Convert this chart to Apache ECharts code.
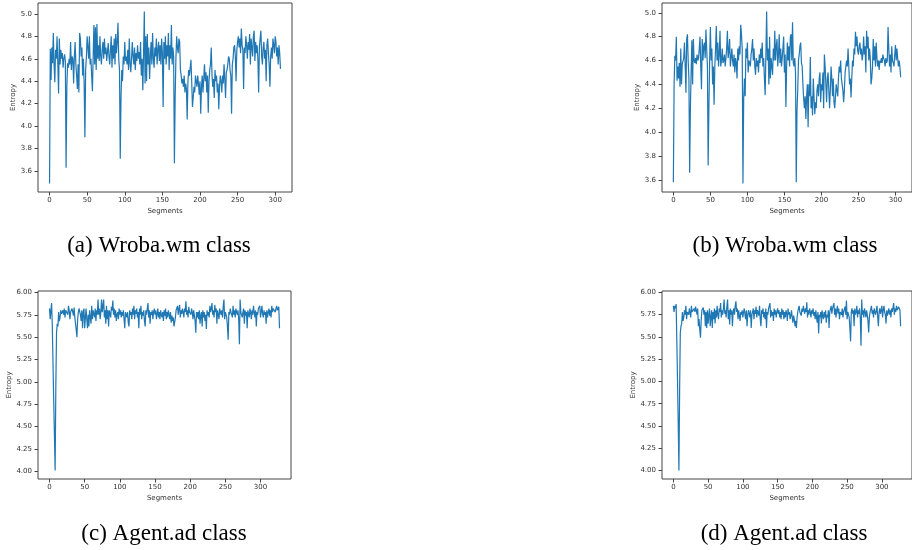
<!DOCTYPE html>
<html>
<head>
<meta charset="utf-8">
<script src="https://cdn.jsdelivr.net/npm/echarts@6.0.0/dist/echarts.min.js"></script>
<style>
  html, body { margin: 0; padding: 0; background: #fff; }
  #chart { width: 912px; height: 550px; }
</style>
</head>
<body>
<div id="chart"></div>
<script>
// entropy of each segment
const wrobaA = [
  3.49, 4.69, 4.41, 4.70, 4.56, 4.83, 4.55, 4.39, 4.68, 4.60,
  4.80, 4.55, 4.29, 4.78, 4.55, 4.68, 4.60, 4.65, 4.52, 4.60,
  4.64, 4.58, 3.63, 4.35, 4.56, 4.52, 4.60, 4.55, 4.75, 4.50,
  4.62, 4.60, 4.38, 4.62, 4.75, 4.55, 4.45, 4.33, 4.55, 4.30,
  4.83, 4.78, 4.62, 4.70, 4.45, 4.60, 4.38, 3.90, 4.50, 4.62,
  4.80, 4.70, 4.60, 4.80, 4.55, 4.60, 4.45, 4.31, 4.62, 4.90,
  4.55, 4.88, 4.50, 4.91, 4.60, 4.72, 4.58, 4.80, 4.62, 4.55,
  4.68, 4.75, 4.60, 4.78, 4.64, 4.70, 4.58, 4.66, 4.74, 4.62,
  4.55, 4.68, 4.80, 4.52, 4.72, 4.60, 4.78, 4.55, 4.82, 4.65,
  4.75, 4.92, 4.60, 4.50, 3.71, 4.25, 4.50, 4.40, 4.62, 4.55,
  4.75, 4.58, 4.62, 4.55, 4.68, 4.50, 4.78, 4.56, 4.48, 4.60,
  4.75, 4.62, 4.55, 4.70, 4.50, 4.65, 4.58, 4.72, 4.60, 4.66,
  4.55, 4.75, 4.45, 4.60, 4.32, 4.65, 5.02, 4.38, 4.80, 4.40,
  4.82, 4.55, 4.70, 4.42, 4.62, 4.75, 4.55, 4.83, 4.60, 4.52,
  4.70, 4.62, 4.78, 4.55, 4.68, 4.75, 4.58, 4.72, 4.55, 4.78,
  4.65, 4.17, 4.75, 4.60, 4.80, 4.55, 4.72, 4.62, 4.83, 4.50,
  4.72, 4.60, 4.90, 4.55, 4.70, 4.62, 3.67, 4.25, 4.60, 4.80,
  4.70, 4.65, 4.78, 4.75, 4.50, 4.45, 4.38, 4.42, 4.35, 4.45,
  4.30, 4.38, 4.33, 4.06, 4.40, 4.50, 4.45, 4.52, 4.59, 4.40,
  4.17, 4.25, 4.35, 4.30, 4.45, 4.40, 4.35, 4.45, 4.38, 4.28,
  4.40, 4.11, 4.35, 4.45, 4.30, 4.42, 4.55, 4.40, 4.48, 4.30,
  4.45, 4.12, 4.40, 4.50, 4.55, 4.70, 4.45, 4.35, 4.42, 4.25,
  4.50, 4.40, 4.45, 4.30, 4.38, 4.15, 4.35, 4.45, 4.40, 4.30,
  4.45, 4.38, 4.55, 4.42, 4.25, 4.48, 4.50, 4.55, 4.62, 4.60,
  4.50, 4.45, 4.11, 4.55, 4.60, 4.70, 4.72, 4.62, 4.40, 4.68,
  4.75, 4.80, 4.70, 4.78, 4.65, 4.87, 4.72, 4.68, 4.33, 4.70,
  4.65, 4.80, 4.72, 4.60, 4.75, 4.68, 4.82, 4.55, 4.78, 4.70,
  4.62, 4.80, 4.85, 4.58, 4.75, 4.65, 4.72, 4.60, 4.30, 4.70,
  4.78, 4.85, 4.62, 4.55, 4.70, 4.75, 4.60, 4.68, 4.40, 4.72,
  4.78, 4.65, 4.55, 4.35, 4.62, 4.70, 4.60, 4.78, 4.72, 4.65,
  4.80, 4.75, 4.62, 4.70, 4.55, 4.72, 4.65, 4.51
]

const wrobaB = [
  3.58, 4.40, 4.64, 4.60, 4.80, 4.43, 4.55, 4.45, 4.58, 4.38,
  4.70, 4.40, 4.57, 4.58, 4.62, 4.75, 4.55, 4.33, 4.78, 4.82,
  4.60, 4.45, 3.66, 4.20, 4.50, 4.77, 4.40, 4.78, 4.60, 4.58,
  4.62, 4.57, 4.65, 4.60, 4.62, 4.70, 4.80, 4.55, 4.36, 4.78,
  4.60, 4.72, 4.75, 4.62, 4.86, 4.70, 4.55, 3.72, 4.20, 4.60,
  4.88, 4.60, 4.70, 4.40, 4.55, 4.23, 4.55, 4.70, 4.89, 4.60,
  4.75, 4.55, 4.65, 4.85, 4.55, 4.60, 4.70, 4.58, 4.60, 4.65,
  4.55, 4.62, 4.70, 4.85, 4.62, 4.68, 4.78, 4.55, 4.62, 4.70,
  4.60, 4.55, 4.65, 4.50, 4.62, 4.58, 4.45, 4.70, 4.60, 4.72,
  4.65, 4.90, 4.82, 4.70, 3.57, 4.28, 4.45, 4.30, 4.70, 4.62,
  4.75, 4.50, 4.60, 4.58, 4.55, 4.65, 4.70, 4.78, 4.60, 4.70,
  4.55, 4.48, 4.62, 4.55, 4.60, 4.50, 4.65, 4.58, 4.70, 4.62,
  4.75, 4.55, 4.62, 4.45, 4.31, 4.65, 5.01, 4.60, 4.70, 4.40,
  4.80, 4.45, 4.62, 4.55, 4.48, 4.70, 4.60, 4.85, 4.60, 4.72,
  4.78, 4.55, 4.65, 4.82, 4.58, 4.70, 4.55, 4.62, 4.70, 4.80,
  4.50, 4.65, 4.21, 4.55, 4.75, 4.60, 4.72, 4.55, 4.80, 4.82,
  4.60, 4.92, 4.58, 4.55, 4.62, 4.50, 3.58, 4.18, 4.35, 4.60,
  4.65, 4.72, 4.75, 4.58, 4.55, 4.40, 4.28, 4.20, 4.30, 4.11,
  4.30, 4.40, 4.04, 4.40, 4.30, 4.63, 4.20, 4.30, 4.14, 4.45,
  4.30, 4.15, 4.25, 4.20, 4.35, 4.40, 4.30, 4.45, 4.50, 4.25,
  4.40, 4.35, 4.50, 4.20, 4.65, 4.55, 4.40, 4.25, 4.45, 4.50,
  4.35, 4.20, 4.35, 4.55, 4.45, 4.30, 4.45, 4.25, 4.20, 4.30,
  4.40, 4.35, 4.30, 4.45, 4.55, 4.50, 4.60, 4.45, 4.40, 4.35,
  4.25, 4.35, 4.50, 4.55, 4.60, 4.55, 4.70, 4.55, 4.40, 4.45,
  4.29, 4.45, 4.60, 4.55, 4.70, 4.65, 4.84, 4.72, 4.80, 4.68,
  4.65, 4.72, 4.75, 4.65, 4.70, 4.60, 4.65, 4.80, 4.65, 4.72,
  4.50, 4.85, 4.70, 4.80, 4.60, 4.70, 4.62, 4.40, 4.45, 4.55,
  4.78, 4.60, 4.72, 4.55, 4.75, 4.62, 4.55, 4.60, 4.52, 4.60,
  4.58, 4.62, 4.58, 4.65, 4.62, 4.60, 4.55, 4.62, 4.58, 4.60,
  4.88, 4.70, 4.55, 4.65, 4.50, 4.72, 4.60, 4.58, 4.55, 4.65,
  4.73, 4.60, 4.70, 4.62, 4.55, 4.60, 4.55, 4.46
]

const agentC = [
  5.82, 5.70, 5.80, 5.88, 5.62, 5.20, 4.78, 4.40, 4.01, 4.95,
  5.55, 5.65, 5.62, 5.78, 5.68, 5.72, 5.80, 5.76, 5.75, 5.80,
  5.75, 5.82, 5.72, 5.80, 5.78, 5.82, 5.75, 5.85, 5.80, 5.70,
  5.78, 5.76, 5.82, 5.80, 5.74, 5.83, 5.72, 5.65, 5.58, 5.50,
  5.70, 5.78, 5.82, 5.80, 5.75, 5.68, 5.80, 5.60, 5.78, 5.82,
  5.60, 5.72, 5.82, 5.70, 5.60, 5.75, 5.62, 5.80, 5.72, 5.65,
  5.85, 5.70, 5.80, 5.76, 5.72, 5.82, 5.68, 5.80, 5.75, 5.92,
  5.75, 5.82, 5.70, 5.78, 5.92, 5.78, 5.85, 5.92, 5.72, 5.80,
  5.65, 5.85, 5.70, 5.80, 5.62, 5.80, 5.78, 5.72, 5.84, 5.80,
  5.91, 5.75, 5.82, 5.72, 5.80, 5.68, 5.75, 5.78, 5.70, 5.82,
  5.75, 5.80, 5.72, 5.78, 5.74, 5.80, 5.70, 5.60, 5.78, 5.80,
  5.72, 5.78, 5.66, 5.62, 5.80, 5.75, 5.78, 5.70, 5.82, 5.75,
  5.85, 5.70, 5.80, 5.76, 5.82, 5.72, 5.78, 5.60, 5.82, 5.75,
  5.85, 5.70, 5.78, 5.74, 5.80, 5.68, 5.62, 5.80, 5.75, 5.82,
  5.88, 5.72, 5.80, 5.65, 5.78, 5.75, 5.80, 5.70, 5.78, 5.82,
  5.75, 5.80, 5.70, 5.76, 5.82, 5.72, 5.78, 5.70, 5.80, 5.75,
  5.72, 5.78, 5.68, 5.80, 5.74, 5.82, 5.70, 5.78, 5.72, 5.80,
  5.75, 5.70, 5.78, 5.66, 5.74, 5.68, 5.72, 5.62, 5.60, 5.72,
  5.80, 5.78, 5.85, 5.75, 5.82, 5.86, 5.72, 5.80, 5.76, 5.82,
  5.78, 5.72, 5.82, 5.78, 5.90, 5.75, 5.80, 5.72, 5.84, 5.78,
  5.80, 5.75, 5.82, 5.78, 5.70, 5.80, 5.74, 5.68, 5.55, 5.78,
  5.72, 5.78, 5.70, 5.80, 5.65, 5.74, 5.78, 5.62, 5.80, 5.72,
  5.78, 5.68, 5.75, 5.59, 5.80, 5.74, 5.78, 5.72, 5.85, 5.78,
  5.82, 5.88, 5.75, 5.80, 5.72, 5.86, 5.78, 5.82, 5.65, 5.80,
  5.75, 5.70, 5.82, 5.78, 5.75, 5.80, 5.72, 5.85, 5.92, 5.70,
  5.78, 5.80, 5.72, 5.62, 5.47, 5.78, 5.75, 5.82, 5.78, 5.80,
  5.72, 5.85, 5.75, 5.80, 5.72, 5.82, 5.78, 5.75, 5.80, 5.70,
  5.42, 5.92, 5.78, 5.80, 5.72, 5.78, 5.82, 5.65, 5.80, 5.74,
  5.78, 5.60, 5.80, 5.76, 5.72, 5.82, 5.78, 5.70, 5.80, 5.75,
  5.85, 5.78, 5.72, 5.80, 5.62, 5.78, 5.75, 5.82, 5.80, 5.85,
  5.72, 5.78, 5.85, 5.76, 5.72, 5.80, 5.75, 5.78, 5.65, 5.80,
  5.72, 5.78, 5.82, 5.74, 5.80, 5.72, 5.85, 5.78, 5.82, 5.80,
  5.84, 5.78, 5.82, 5.85, 5.80, 5.82, 5.84, 5.60
]

const agentD = [
  5.85, 5.78, 5.85, 5.82, 5.87, 5.45, 5.00, 4.52, 4.00, 4.90,
  5.55, 5.62, 5.65, 5.78, 5.68, 5.72, 5.80, 5.75, 5.85, 5.70,
  5.78, 5.80, 5.75, 5.82, 5.80, 5.72, 5.85, 5.78, 5.80, 5.76,
  5.82, 5.78, 5.84, 5.80, 5.75, 5.82, 5.62, 5.70, 5.58, 5.49,
  5.68, 5.80, 5.78, 5.83, 5.75, 5.80, 5.62, 5.78, 5.60, 5.80,
  5.65, 5.75, 5.82, 5.62, 5.72, 5.80, 5.60, 5.78, 5.70, 5.82,
  5.65, 5.80, 5.72, 5.85, 5.75, 5.70, 5.82, 5.78, 5.88, 5.72,
  5.80, 5.75, 5.82, 5.92, 5.76, 5.80, 5.72, 5.85, 5.92, 5.70,
  5.80, 5.64, 5.82, 5.75, 5.80, 5.62, 5.78, 5.82, 5.75, 5.85,
  5.90, 5.78, 5.82, 5.70, 5.80, 5.74, 5.68, 5.78, 5.75, 5.80,
  5.72, 5.78, 5.82, 5.75, 5.70, 5.80, 5.62, 5.74, 5.80, 5.78,
  5.72, 5.80, 5.60, 5.75, 5.78, 5.82, 5.70, 5.80, 5.76, 5.84,
  5.72, 5.80, 5.78, 5.74, 5.85, 5.70, 5.62, 5.80, 5.76, 5.82,
  5.72, 5.78, 5.70, 5.82, 5.60, 5.78, 5.75, 5.82, 5.80, 5.88,
  5.72, 5.80, 5.74, 5.78, 5.68, 5.82, 5.75, 5.80, 5.72, 5.78,
  5.82, 5.76, 5.80, 5.72, 5.78, 5.70, 5.82, 5.75, 5.80, 5.70,
  5.78, 5.72, 5.80, 5.76, 5.68, 5.82, 5.75, 5.78, 5.70, 5.74,
  5.80, 5.72, 5.66, 5.74, 5.70, 5.62, 5.68, 5.60, 5.72, 5.78,
  5.82, 5.85, 5.78, 5.80, 5.74, 5.82, 5.78, 5.85, 5.80, 5.76,
  5.82, 5.78, 5.89, 5.72, 5.80, 5.75, 5.82, 5.78, 5.72, 5.80,
  5.76, 5.82, 5.74, 5.78, 5.70, 5.80, 5.72, 5.66, 5.78, 5.54,
  5.75, 5.72, 5.78, 5.65, 5.80, 5.74, 5.70, 5.78, 5.72, 5.80,
  5.66, 5.75, 5.72, 5.80, 5.60, 5.78, 5.80, 5.85, 5.76, 5.82,
  5.80, 5.88, 5.75, 5.82, 5.72, 5.80, 5.85, 5.76, 5.82, 5.70,
  5.78, 5.80, 5.75, 5.82, 5.72, 5.78, 5.80, 5.84, 5.75, 5.91,
  5.70, 5.78, 5.80, 5.72, 5.60, 5.45, 5.78, 5.82, 5.76, 5.80,
  5.62, 5.82, 5.75, 5.78, 5.85, 5.72, 5.80, 5.76, 5.82, 5.70,
  5.40, 5.92, 5.75, 5.80, 5.72, 5.82, 5.78, 5.72, 5.80, 5.75,
  5.68, 5.55, 5.72, 5.78, 5.80, 5.85, 5.76, 5.80, 5.72, 5.82,
  5.78, 5.75, 5.80, 5.85, 5.72, 5.62, 5.78, 5.82, 5.76, 5.80,
  5.85, 5.72, 5.80, 5.85, 5.78, 5.75, 5.65, 5.80, 5.74, 5.78,
  5.82, 5.75, 5.80, 5.72, 5.82, 5.78, 5.80, 5.88, 5.75, 5.82,
  5.78, 5.85, 5.80, 5.82, 5.84, 5.85, 5.80, 5.62
]

// tick labels
const segTicks = [0, 50, 100, 150, 200, 250, 300]
const wrobaTicks = [3.6, 3.8, 4.0, 4.2, 4.4, 4.6, 4.8, 5.0]
const agentTicks = [4.0, 4.25, 4.5, 4.75, 5.0, 5.25, 5.5, 5.75, 6.0]
const captions = ['(a) Wroba.wm class', '(b) Wroba.wm class', '(c) Agent.ad class', '(d) Agent.ad class']

var chart = echarts.init(document.getElementById('chart'))

// panel layout (pixels)
var panels = [
  { data: wrobaA, ticks: wrobaTicks, dec: 1, left: 38, top: 3, width: 254, height: 189, gap: 19.5, cx: 159, cy: 246 },
  { data: wrobaB, ticks: wrobaTicks, dec: 1, left: 662, top: 3, width: 254, height: 189, gap: 19.5, cx: 785, cy: 246 },
  { data: agentC, ticks: agentTicks, dec: 2, left: 38, top: 291, width: 253, height: 188, gap: 23.5, cx: 164, cy: 534 },
  { data: agentD, ticks: agentTicks, dec: 2, left: 662, top: 291, width: 253, height: 188, gap: 23.5, cx: 784, cy: 534 },
]

var textStyle = { fontFamily: 'DejaVu Sans', fontSize: 7, color: '#333' }
var tickStyle = { color: '#444', width: 1 }

var grids = [], xAxes = [], yAxes = [], series = [], graphics = []
panels.forEach(function (p, i) {
  var n = p.data.length - 1
  var lo = Math.min.apply(null, p.data)
  var hi = Math.max.apply(null, p.data)
  var m = (hi - lo) * 0.05
  grids.push({
    left: p.left, top: p.top, width: p.width, height: p.height,
    show: true, borderColor: '#444', borderWidth: 1,
  })
  xAxes.push({
    type: 'value', gridIndex: i, min: -n * 0.05, max: n * 1.05,
    name: 'Segments', nameLocation: 'middle', nameGap: 15.5,
    nameTextStyle: textStyle,
    axisLine: { show: false, onZero: false },
    axisTick: { show: true, length: 3.5, lineStyle: tickStyle, customValues: segTicks },
    axisLabel: Object.assign({ margin: 5, customValues: segTicks }, textStyle),
    splitLine: { show: false },
  })
  yAxes.push({
    type: 'value', gridIndex: i, min: lo - m, max: hi + m,
    name: 'Entropy', nameLocation: 'middle', nameGap: p.gap,
    nameTextStyle: textStyle,
    axisLine: { show: false, onZero: false },
    axisTick: { show: true, length: 3.5, lineStyle: tickStyle, customValues: p.ticks },
    axisLabel: Object.assign({
      margin: 6, customValues: p.ticks,
      formatter: function (v) { return v.toFixed(p.dec) },
    }, textStyle),
    splitLine: { show: false },
  })
  series.push({
    type: 'line', xAxisIndex: i, yAxisIndex: i,
    data: p.data.map(function (v, k) { return [k, v] }),
    symbol: 'none', showSymbol: false,
    lineStyle: { color: '#1f77b4', width: 1.2 },
  })
  graphics.push({
    type: 'text', x: p.cx, y: p.cy,
    style: { text: captions[i], font: '23px "Liberation Serif"', fill: '#000', align: 'center', verticalAlign: 'middle' },
  })
})

var option = {
  backgroundColor: '#fff',
  animation: false,
  grid: grids,
  xAxis: xAxes,
  yAxis: yAxes,
  series: series,
  graphic: graphics,
}
chart.setOption(option)
</script>
</body>
</html>
